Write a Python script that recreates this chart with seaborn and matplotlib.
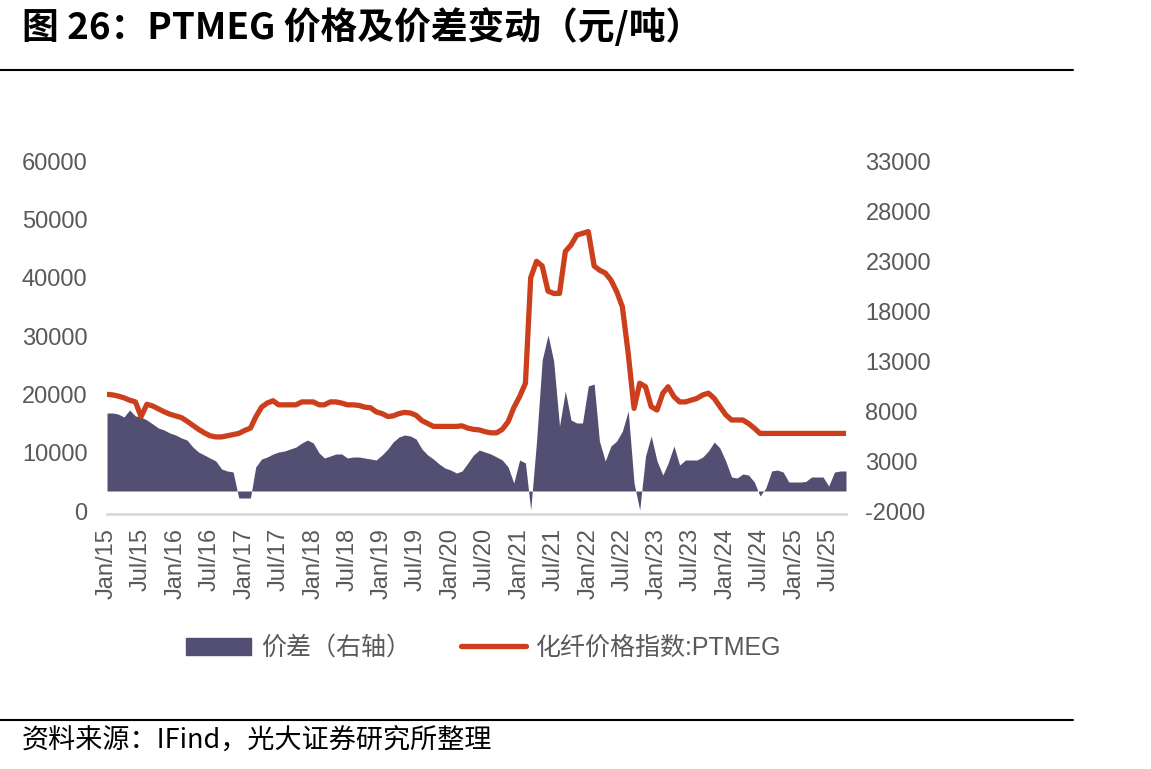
import pandas as pd
import seaborn as sns
import matplotlib.pyplot as plt
from matplotlib.patches import Patch
from matplotlib.lines import Line2D

# monthly values, Jan 2015 - Oct 2025
dates = pd.date_range("2015-01-01", periods=130, freq="MS")

# 化纤价格指数:PTMEG (left axis)
ptmeg_price = [
    20000, 19900, 19700, 19400, 19000, 18700, 16200, 18300, 18000, 17500, 17000, 16600,
    16300, 16000, 15400, 14700, 14000, 13400, 12900, 12700, 12700, 12900, 13100, 13300,
    13800, 14200, 16100, 17800, 18500, 18900, 18200, 18200, 18200, 18200, 18700, 18700,
    18700, 18200, 18200, 18700, 18700, 18500, 18200, 18200, 18100, 17800, 17700, 17000,
    16700, 16200, 16300, 16700, 16900, 16800, 16400, 15500, 15000, 14500, 14500, 14500,
    14500, 14500, 14600, 14200, 14000, 13900, 13600, 13400, 13400, 14000, 15300, 17700,
    19600, 21900, 40000, 42800, 42000, 37700, 37300, 37300, 44500, 45600, 47300, 47600,
    47900, 42000, 41300, 40800, 39600, 37600, 35000, 27000, 17600, 21900, 21300, 17900,
    17300, 20200, 21300, 19600, 18700, 18700, 19000, 19300, 19900, 20200, 19300, 17900,
    16500, 15600, 15600, 15600, 15000, 14200, 13300, 13300, 13300, 13300, 13300, 13300,
    13300, 13300, 13300, 13300, 13300, 13300, 13300, 13300, 13300, 13300,
]

# 价差 (right axis)
spread = [
    7800, 7800, 7700, 7400, 8100, 7500, 7400, 7100, 6700, 6300, 6100, 5800,
    5600, 5300, 5100, 4400, 3900, 3600, 3300, 3000, 2200, 2000, 1900, -700,
    -700, -700, 2400, 3200, 3400, 3700, 3900, 4000, 4200, 4400, 4800, 5100,
    4800, 3800, 3300, 3500, 3700, 3700, 3300, 3400, 3400, 3300, 3200, 3100,
    3600, 4200, 4900, 5400, 5600, 5500, 5200, 4200, 3600, 3200, 2700, 2300,
    2100, 1800, 2000, 2800, 3600, 4100, 3900, 3700, 3400, 3100, 2400, 800,
    3100, 2800, -1900, 5000, 13100, 15600, 13000, 6500, 10000, 7100, 6800, 6800,
    10500, 10700, 5000, 3000, 4500, 5000, 6000, 8000, 800, -1900, 3500, 5500,
    3000, 1600, 2800, 4500, 2600, 3100, 3100, 3100, 3400, 4000, 4900, 4300,
    3000, 1400, 1300, 1700, 1600, 900, -500, 300, 2000, 2100, 1900, 900,
    900, 900, 950, 1400, 1400, 1400, 500, 1900, 2000, 2000,
]

tick_dates = pd.date_range("2015-01-01", "2025-07-01", freq="6MS")
tick_labels = [d.strftime("%b/%y") for d in tick_dates]

area_color = "#534F72"
line_color = "#CB3F1C"
text_gray = "#595959"
axis_gray = "#D9D9D9"

sns.set_theme(style="white")
plt.rcParams["font.family"] = ["Liberation Sans", "Noto Sans CJK SC"]
plt.rcParams["axes.unicode_minus"] = False

W, H = 1151, 769
fig = plt.figure(figsize=(W / 100, H / 100), dpi=100)
ax = fig.add_axes([107 / W, 1 - 511 / H, (846 - 107) / W, (511 - 161) / H])

# spread area (right axis) sits behind the price line
ax.fill_between(dates, 0, spread, color=area_color, linewidth=0)
ax.set_ylim(-2000, 33000)
ax.set_yticks(range(-2000, 33001, 5000))

ax2 = ax.twinx()
sns.lineplot(x=dates, y=ptmeg_price, ax=ax2, color=line_color, linewidth=3.8)
ax2.set_ylim(0, 60000)
ax2.set_yticks(range(0, 60001, 10000))

ax.yaxis.tick_right()
ax2.yaxis.tick_left()
ax.set_xlim(dates[0], dates[-1])
ax.set_xticks(tick_dates, tick_labels)

for a in (ax, ax2):
    for s in a.spines.values():
        s.set_visible(False)
    a.set_xlabel("")
    a.set_ylabel("")
    a.grid(False)
ax.spines["bottom"].set_visible(True)
ax.spines["bottom"].set_color(axis_gray)
ax.spines["bottom"].set_linewidth(2)
ax.spines["bottom"].set_position(("outward", 2))

ax.tick_params(axis="x", direction="out", length=6, width=1.5, color=axis_gray,
               labelsize=17, labelcolor=text_gray, pad=4, labelrotation=90)
ax.tick_params(axis="y", length=0, labelsize=17, labelcolor=text_gray, pad=14)
ax2.tick_params(axis="y", length=0, labelsize=17, labelcolor=text_gray, pad=14)

handles = [
    Patch(facecolor=area_color, edgecolor=area_color, label="价差（右轴）"),
    Line2D([], [], color=line_color, linewidth=3.8, label="化纤价格指数:PTMEG"),
]
fig.legend(handles=handles, loc="center", bbox_to_anchor=(484 / W, 1 - 648 / H),
           ncol=2, frameon=False, fontsize=18, handlelength=2.6, handletextpad=0.4,
           columnspacing=2.0, labelcolor=text_gray)

fig.text(22 / W, 1 - 28 / H, "图 26：PTMEG 价格及价差变动（元/吨）", fontsize=26.5,
         fontweight="bold", family=["Noto Sans CJK SC"], va="center", ha="left", color="black")
fig.text(22 / W, 1 - 741 / H, "资料来源：IFind，光大证券研究所整理", fontsize=19.5,
         family=["Noto Sans CJK SC"], va="center", ha="left", color="black")

fig.add_artist(Line2D([0, 1073 / W], [1 - 70 / H] * 2, color="black", linewidth=1.5))
fig.add_artist(Line2D([0, 1073 / W], [1 - 720 / H] * 2, color="black", linewidth=1.5))

fig.savefig("out.png", dpi=100)
